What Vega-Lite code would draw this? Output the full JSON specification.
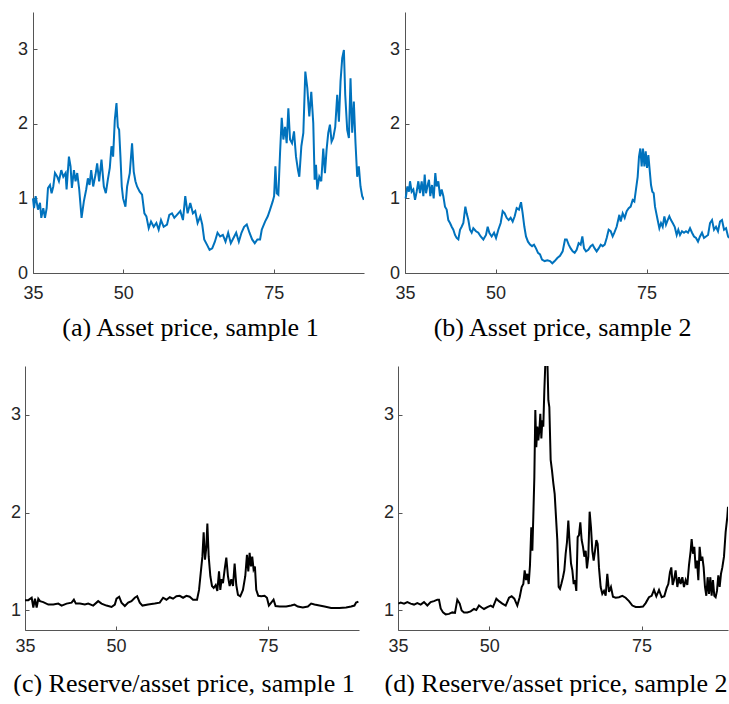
{
  "$schema": "https://vega.github.io/schema/vega-lite/v6.json",
  "background": "white",
  "padding": {"left": 0, "top": 12, "right": 0, "bottom": 0},
  "config": {
    "view": {"stroke": null},
    "axis": {
      "grid": false,
      "domainColor": "#555555",
      "domainWidth": 1,
      "tickColor": "#555555",
      "tickWidth": 1,
      "tickSize": -4,
      "labelFont": "Liberation Sans",
      "labelFontSize": 18,
      "labelColor": "#262626",
      "labelFlush": false,
      "labelOverlap": false,
      "titleFont": "Liberation Serif",
      "titleFontSize": 26,
      "titleFontWeight": "normal",
      "titleColor": "#000000"
    },
    "axisY": {"labelPadding": 9.5}
  },
  "datasets": {
    "assetPrice1": [
      {"t":35.00,"v":1.00},{"t":35.17,"v":0.87},{"t":35.44,"v":1.03},{"t":35.83,"v":0.85},{"t":36.16,"v":0.94},{"t":36.38,"v":0.74},{"t":36.71,"v":0.87},{"t":36.99,"v":0.74},{"t":37.27,"v":0.87},{"t":37.49,"v":1.14},{"t":37.82,"v":1.18},{"t":38.09,"v":1.07},{"t":38.37,"v":1.16},{"t":38.65,"v":1.34},{"t":39.03,"v":1.29},{"t":39.31,"v":1.23},{"t":39.70,"v":1.38},{"t":40.03,"v":1.29},{"t":40.41,"v":1.34},{"t":40.58,"v":1.12},{"t":40.97,"v":1.56},{"t":41.24,"v":1.43},{"t":41.46,"v":1.14},{"t":41.80,"v":1.38},{"t":42.07,"v":1.23},{"t":42.35,"v":1.34},{"t":42.68,"v":1.12},{"t":43.07,"v":0.74},{"t":43.45,"v":0.96},{"t":43.84,"v":1.12},{"t":44.12,"v":1.27},{"t":44.39,"v":1.18},{"t":44.67,"v":1.38},{"t":45.00,"v":1.16},{"t":45.39,"v":1.32},{"t":45.66,"v":1.47},{"t":45.99,"v":1.23},{"t":46.38,"v":1.52},{"t":46.77,"v":1.16},{"t":47.10,"v":1.07},{"t":47.43,"v":1.25},{"t":47.76,"v":1.41},{"t":48.04,"v":1.70},{"t":48.31,"v":1.56},{"t":48.59,"v":2.05},{"t":48.87,"v":2.28},{"t":49.09,"v":1.96},{"t":49.31,"v":1.92},{"t":49.53,"v":1.56},{"t":49.75,"v":1.16},{"t":49.97,"v":1.00},{"t":50.36,"v":0.89},{"t":50.64,"v":1.16},{"t":51.08,"v":1.34},{"t":51.46,"v":1.74},{"t":51.74,"v":1.36},{"t":52.02,"v":1.23},{"t":52.29,"v":1.16},{"t":52.73,"v":1.09},{"t":53.12,"v":1.05},{"t":53.51,"v":0.80},{"t":53.84,"v":0.76},{"t":54.23,"v":0.60},{"t":54.61,"v":0.69},{"t":55.06,"v":0.62},{"t":55.50,"v":0.67},{"t":55.88,"v":0.58},{"t":56.27,"v":0.71},{"t":56.71,"v":0.62},{"t":57.27,"v":0.65},{"t":57.65,"v":0.78},{"t":58.09,"v":0.80},{"t":58.48,"v":0.74},{"t":58.92,"v":0.78},{"t":59.48,"v":0.83},{"t":59.92,"v":0.71},{"t":60.30,"v":1.03},{"t":60.69,"v":0.80},{"t":61.13,"v":0.94},{"t":61.57,"v":0.80},{"t":61.96,"v":0.83},{"t":62.35,"v":0.67},{"t":62.79,"v":0.76},{"t":63.12,"v":0.65},{"t":63.45,"v":0.45},{"t":63.90,"v":0.38},{"t":64.34,"v":0.31},{"t":64.78,"v":0.33},{"t":65.22,"v":0.42},{"t":65.66,"v":0.54},{"t":66.10,"v":0.49},{"t":66.55,"v":0.51},{"t":66.99,"v":0.42},{"t":67.43,"v":0.54},{"t":67.87,"v":0.40},{"t":68.31,"v":0.47},{"t":68.76,"v":0.54},{"t":69.20,"v":0.42},{"t":69.64,"v":0.54},{"t":70.08,"v":0.62},{"t":70.52,"v":0.65},{"t":70.97,"v":0.54},{"t":71.41,"v":0.45},{"t":71.85,"v":0.40},{"t":72.29,"v":0.45},{"t":72.73,"v":0.45},{"t":73.01,"v":0.58},{"t":73.56,"v":0.69},{"t":74.01,"v":0.76},{"t":74.39,"v":0.85},{"t":74.83,"v":0.96},{"t":75.06,"v":1.03},{"t":75.28,"v":1.43},{"t":75.50,"v":1.07},{"t":75.77,"v":1.05},{"t":76.05,"v":1.61},{"t":76.33,"v":2.08},{"t":76.60,"v":1.79},{"t":76.88,"v":1.96},{"t":77.15,"v":1.74},{"t":77.43,"v":2.21},{"t":77.71,"v":1.79},{"t":78.04,"v":1.74},{"t":78.37,"v":1.90},{"t":78.70,"v":1.56},{"t":79.03,"v":1.38},{"t":79.25,"v":1.29},{"t":79.59,"v":1.70},{"t":79.92,"v":1.88},{"t":80.25,"v":2.70},{"t":80.58,"v":2.48},{"t":80.91,"v":2.10},{"t":81.24,"v":2.43},{"t":81.57,"v":2.01},{"t":81.80,"v":1.25},{"t":82.02,"v":1.45},{"t":82.24,"v":1.12},{"t":82.57,"v":1.29},{"t":82.90,"v":1.23},{"t":83.23,"v":1.67},{"t":83.51,"v":1.34},{"t":83.78,"v":1.65},{"t":84.06,"v":1.88},{"t":84.34,"v":1.99},{"t":84.61,"v":1.76},{"t":84.89,"v":1.81},{"t":85.22,"v":1.96},{"t":85.55,"v":2.39},{"t":85.83,"v":2.03},{"t":86.10,"v":2.57},{"t":86.38,"v":2.88},{"t":86.66,"v":2.99},{"t":86.88,"v":2.39},{"t":87.21,"v":1.92},{"t":87.49,"v":1.81},{"t":87.76,"v":2.61},{"t":88.04,"v":1.88},{"t":88.31,"v":2.30},{"t":88.59,"v":1.74},{"t":88.87,"v":1.29},{"t":89.14,"v":1.43},{"t":89.42,"v":1.16},{"t":89.70,"v":1.03},{"t":89.97,"v":0.98}
    ],
    "assetPrice2": [
      {"t":35.11,"v":1.00},{"t":35.39,"v":1.16},{"t":35.66,"v":1.09},{"t":35.83,"v":1.23},{"t":36.10,"v":1.09},{"t":36.38,"v":1.12},{"t":36.66,"v":0.98},{"t":36.93,"v":1.09},{"t":37.21,"v":1.23},{"t":37.48,"v":1.07},{"t":37.76,"v":1.23},{"t":38.04,"v":1.03},{"t":38.26,"v":1.32},{"t":38.48,"v":1.07},{"t":38.70,"v":1.16},{"t":38.97,"v":1.25},{"t":39.19,"v":1.03},{"t":39.47,"v":1.18},{"t":39.75,"v":1.00},{"t":40.02,"v":1.34},{"t":40.24,"v":1.16},{"t":40.52,"v":1.23},{"t":40.80,"v":1.03},{"t":41.07,"v":1.12},{"t":41.35,"v":1.03},{"t":41.62,"v":0.89},{"t":41.90,"v":0.85},{"t":42.17,"v":0.71},{"t":42.45,"v":0.67},{"t":42.73,"v":0.62},{"t":43.00,"v":0.58},{"t":43.28,"v":0.51},{"t":43.55,"v":0.47},{"t":43.83,"v":0.45},{"t":44.11,"v":0.58},{"t":44.38,"v":0.62},{"t":44.66,"v":0.67},{"t":44.99,"v":0.89},{"t":45.21,"v":0.80},{"t":45.49,"v":0.71},{"t":45.76,"v":0.58},{"t":46.04,"v":0.54},{"t":46.31,"v":0.60},{"t":46.75,"v":0.56},{"t":47.14,"v":0.54},{"t":47.53,"v":0.49},{"t":47.97,"v":0.45},{"t":48.41,"v":0.51},{"t":48.69,"v":0.62},{"t":48.96,"v":0.54},{"t":49.35,"v":0.49},{"t":49.74,"v":0.54},{"t":50.07,"v":0.47},{"t":50.45,"v":0.58},{"t":50.84,"v":0.67},{"t":51.17,"v":0.83},{"t":51.50,"v":0.80},{"t":51.83,"v":0.74},{"t":52.16,"v":0.71},{"t":52.49,"v":0.74},{"t":52.83,"v":0.69},{"t":53.16,"v":0.76},{"t":53.49,"v":0.87},{"t":53.87,"v":0.85},{"t":54.21,"v":0.95},{"t":54.48,"v":0.80},{"t":54.76,"v":0.62},{"t":55.03,"v":0.49},{"t":55.36,"v":0.42},{"t":55.70,"v":0.38},{"t":56.03,"v":0.36},{"t":56.36,"v":0.38},{"t":56.69,"v":0.33},{"t":57.02,"v":0.27},{"t":57.35,"v":0.25},{"t":57.68,"v":0.18},{"t":58.12,"v":0.16},{"t":58.57,"v":0.17},{"t":59.01,"v":0.16},{"t":59.39,"v":0.13},{"t":59.78,"v":0.16},{"t":60.22,"v":0.20},{"t":60.66,"v":0.23},{"t":61.10,"v":0.29},{"t":61.49,"v":0.45},{"t":61.77,"v":0.45},{"t":62.10,"v":0.38},{"t":62.43,"v":0.33},{"t":62.76,"v":0.29},{"t":63.09,"v":0.27},{"t":63.42,"v":0.31},{"t":63.75,"v":0.40},{"t":64.08,"v":0.38},{"t":64.36,"v":0.49},{"t":64.64,"v":0.33},{"t":64.97,"v":0.29},{"t":65.35,"v":0.31},{"t":65.74,"v":0.36},{"t":66.07,"v":0.38},{"t":66.40,"v":0.33},{"t":66.73,"v":0.29},{"t":67.06,"v":0.33},{"t":67.40,"v":0.38},{"t":67.73,"v":0.36},{"t":68.06,"v":0.38},{"t":68.39,"v":0.47},{"t":68.72,"v":0.58},{"t":69.05,"v":0.56},{"t":69.38,"v":0.49},{"t":69.66,"v":0.54},{"t":70.04,"v":0.62},{"t":70.49,"v":0.78},{"t":70.71,"v":0.69},{"t":71.04,"v":0.80},{"t":71.37,"v":0.74},{"t":71.70,"v":0.83},{"t":72.03,"v":0.87},{"t":72.36,"v":0.89},{"t":72.69,"v":0.98},{"t":72.97,"v":0.96},{"t":73.24,"v":1.12},{"t":73.52,"v":1.29},{"t":73.74,"v":1.56},{"t":73.96,"v":1.67},{"t":74.18,"v":1.43},{"t":74.40,"v":1.67},{"t":74.63,"v":1.43},{"t":74.85,"v":1.63},{"t":75.07,"v":1.41},{"t":75.29,"v":1.58},{"t":75.51,"v":1.38},{"t":75.73,"v":1.18},{"t":75.95,"v":1.09},{"t":76.17,"v":1.07},{"t":76.39,"v":0.89},{"t":76.61,"v":0.80},{"t":76.83,"v":0.71},{"t":77.11,"v":0.60},{"t":77.38,"v":0.67},{"t":77.66,"v":0.62},{"t":77.94,"v":0.76},{"t":78.21,"v":0.65},{"t":78.49,"v":0.71},{"t":78.76,"v":0.76},{"t":79.04,"v":0.71},{"t":79.32,"v":0.67},{"t":79.65,"v":0.62},{"t":79.98,"v":0.51},{"t":80.25,"v":0.58},{"t":80.53,"v":0.51},{"t":80.86,"v":0.56},{"t":81.19,"v":0.54},{"t":81.52,"v":0.56},{"t":81.85,"v":0.54},{"t":82.19,"v":0.60},{"t":82.52,"v":0.54},{"t":82.85,"v":0.49},{"t":83.18,"v":0.47},{"t":83.51,"v":0.42},{"t":83.84,"v":0.49},{"t":84.17,"v":0.54},{"t":84.50,"v":0.47},{"t":84.83,"v":0.49},{"t":85.17,"v":0.51},{"t":85.50,"v":0.67},{"t":85.83,"v":0.71},{"t":86.16,"v":0.58},{"t":86.49,"v":0.62},{"t":86.82,"v":0.56},{"t":87.15,"v":0.69},{"t":87.48,"v":0.71},{"t":87.82,"v":0.58},{"t":88.15,"v":0.60},{"t":88.48,"v":0.49},{"t":88.64,"v":0.47}
    ],
    "reserveRatio1": [
      {"t":35.00,"v":1.105},{"t":35.55,"v":1.105},{"t":36.10,"v":1.13},{"t":36.37,"v":1.03},{"t":36.64,"v":1.12},{"t":36.92,"v":1.03},{"t":37.19,"v":1.12},{"t":37.47,"v":1.095},{"t":38.01,"v":1.085},{"t":38.84,"v":1.06},{"t":39.66,"v":1.06},{"t":40.48,"v":1.07},{"t":41.03,"v":1.05},{"t":41.85,"v":1.07},{"t":42.67,"v":1.08},{"t":43.05,"v":1.11},{"t":43.38,"v":1.07},{"t":44.04,"v":1.07},{"t":44.86,"v":1.06},{"t":45.41,"v":1.07},{"t":46.23,"v":1.05},{"t":47.05,"v":1.095},{"t":47.60,"v":1.07},{"t":48.42,"v":1.05},{"t":49.25,"v":1.035},{"t":49.79,"v":1.06},{"t":50.07,"v":1.12},{"t":50.51,"v":1.14},{"t":50.89,"v":1.08},{"t":51.44,"v":1.045},{"t":51.99,"v":1.08},{"t":52.53,"v":1.095},{"t":53.08,"v":1.13},{"t":53.47,"v":1.145},{"t":53.90,"v":1.08},{"t":54.34,"v":1.05},{"t":55.27,"v":1.06},{"t":56.37,"v":1.07},{"t":57.19,"v":1.08},{"t":57.74,"v":1.13},{"t":58.29,"v":1.11},{"t":58.84,"v":1.135},{"t":59.38,"v":1.12},{"t":59.93,"v":1.145},{"t":60.48,"v":1.15},{"t":61.03,"v":1.13},{"t":61.58,"v":1.15},{"t":62.12,"v":1.14},{"t":62.67,"v":1.11},{"t":63.33,"v":1.11},{"t":63.66,"v":1.21},{"t":63.93,"v":1.38},{"t":64.21,"v":1.55},{"t":64.42,"v":1.80},{"t":64.64,"v":1.52},{"t":64.86,"v":1.65},{"t":65.03,"v":1.89},{"t":65.25,"v":1.55},{"t":65.52,"v":1.35},{"t":65.79,"v":1.25},{"t":66.07,"v":1.23},{"t":66.40,"v":1.26},{"t":66.67,"v":1.20},{"t":66.95,"v":1.40},{"t":67.16,"v":1.21},{"t":67.38,"v":1.32},{"t":67.60,"v":1.28},{"t":67.88,"v":1.42},{"t":68.15,"v":1.54},{"t":68.42,"v":1.35},{"t":68.70,"v":1.25},{"t":68.97,"v":1.32},{"t":69.25,"v":1.25},{"t":69.52,"v":1.48},{"t":69.79,"v":1.26},{"t":70.07,"v":1.16},{"t":70.45,"v":1.145},{"t":70.89,"v":1.21},{"t":71.27,"v":1.35},{"t":71.55,"v":1.57},{"t":71.77,"v":1.40},{"t":71.99,"v":1.59},{"t":72.21,"v":1.45},{"t":72.42,"v":1.55},{"t":72.64,"v":1.42},{"t":72.86,"v":1.45},{"t":73.08,"v":1.21},{"t":73.41,"v":1.15},{"t":73.90,"v":1.145},{"t":74.45,"v":1.15},{"t":74.84,"v":1.13},{"t":75.16,"v":1.05},{"t":75.55,"v":1.08},{"t":75.93,"v":1.11},{"t":76.26,"v":1.045},{"t":76.92,"v":1.04},{"t":78.01,"v":1.04},{"t":78.84,"v":1.05},{"t":79.38,"v":1.06},{"t":79.93,"v":1.04},{"t":80.75,"v":1.03},{"t":81.58,"v":1.04},{"t":82.12,"v":1.07},{"t":82.67,"v":1.06},{"t":83.49,"v":1.05},{"t":84.32,"v":1.04},{"t":85.41,"v":1.025},{"t":86.78,"v":1.025},{"t":87.88,"v":1.03},{"t":88.70,"v":1.04},{"t":89.25,"v":1.05},{"t":89.52,"v":1.08},{"t":89.90,"v":1.09}
    ],
    "reserveRatio2": [
      {"t":35.05,"v":1.07},{"t":35.44,"v":1.08},{"t":35.99,"v":1.07},{"t":36.53,"v":1.085},{"t":37.08,"v":1.07},{"t":37.63,"v":1.06},{"t":38.17,"v":1.075},{"t":38.72,"v":1.06},{"t":39.27,"v":1.085},{"t":39.82,"v":1.05},{"t":40.36,"v":1.085},{"t":40.91,"v":1.095},{"t":41.46,"v":1.11},{"t":41.73,"v":1.11},{"t":42.01,"v":1.02},{"t":42.39,"v":0.98},{"t":42.83,"v":0.96},{"t":43.37,"v":0.965},{"t":43.92,"v":0.98},{"t":44.36,"v":0.975},{"t":44.74,"v":1.11},{"t":45.13,"v":1.07},{"t":45.45,"v":1.00},{"t":45.84,"v":0.98},{"t":46.38,"v":0.98},{"t":46.93,"v":0.99},{"t":47.48,"v":1.015},{"t":47.86,"v":1.005},{"t":48.30,"v":1.05},{"t":48.74,"v":1.03},{"t":49.12,"v":1.015},{"t":49.67,"v":1.035},{"t":50.22,"v":1.05},{"t":50.60,"v":1.035},{"t":51.15,"v":1.12},{"t":51.58,"v":1.095},{"t":52.13,"v":1.07},{"t":52.68,"v":1.05},{"t":53.23,"v":1.13},{"t":53.66,"v":1.145},{"t":54.10,"v":1.12},{"t":54.59,"v":1.05},{"t":54.98,"v":1.135},{"t":55.31,"v":1.24},{"t":55.58,"v":1.27},{"t":55.80,"v":1.41},{"t":56.02,"v":1.31},{"t":56.24,"v":1.375},{"t":56.46,"v":1.27},{"t":56.67,"v":1.46},{"t":56.89,"v":1.85},{"t":57.06,"v":1.61},{"t":57.22,"v":1.96},{"t":57.39,"v":2.365},{"t":57.55,"v":3.05},{"t":57.71,"v":2.67},{"t":57.88,"v":2.88},{"t":58.04,"v":2.74},{"t":58.21,"v":2.84},{"t":58.37,"v":3.01},{"t":58.54,"v":2.76},{"t":58.70,"v":2.945},{"t":58.86,"v":2.88},{"t":59.03,"v":3.25},{"t":59.25,"v":3.62},{"t":59.52,"v":3.58},{"t":59.69,"v":3.15},{"t":59.85,"v":3.08},{"t":60.07,"v":2.54},{"t":60.29,"v":2.43},{"t":60.51,"v":2.30},{"t":60.73,"v":2.19},{"t":60.94,"v":1.96},{"t":61.16,"v":1.72},{"t":61.38,"v":1.24},{"t":61.60,"v":1.22},{"t":61.82,"v":1.27},{"t":62.09,"v":1.34},{"t":62.31,"v":1.41},{"t":62.53,"v":1.58},{"t":62.75,"v":1.70},{"t":62.97,"v":1.92},{"t":63.19,"v":1.68},{"t":63.41,"v":1.48},{"t":63.63,"v":1.41},{"t":63.85,"v":1.27},{"t":64.06,"v":1.31},{"t":64.28,"v":1.20},{"t":64.50,"v":1.75},{"t":64.72,"v":1.77},{"t":64.94,"v":1.90},{"t":65.16,"v":1.72},{"t":65.38,"v":1.65},{"t":65.60,"v":1.55},{"t":65.82,"v":1.61},{"t":66.03,"v":1.43},{"t":66.25,"v":1.55},{"t":66.47,"v":2.01},{"t":66.69,"v":1.85},{"t":66.91,"v":1.61},{"t":67.13,"v":1.51},{"t":67.35,"v":1.61},{"t":67.57,"v":1.72},{"t":67.79,"v":1.68},{"t":68.00,"v":1.44},{"t":68.28,"v":1.24},{"t":68.55,"v":1.17},{"t":68.83,"v":1.20},{"t":69.10,"v":1.15},{"t":69.37,"v":1.375},{"t":69.65,"v":1.19},{"t":69.97,"v":1.24},{"t":70.30,"v":1.14},{"t":70.74,"v":1.13},{"t":71.29,"v":1.135},{"t":71.84,"v":1.15},{"t":72.38,"v":1.13},{"t":72.93,"v":1.095},{"t":73.48,"v":1.05},{"t":74.03,"v":1.035},{"t":74.68,"v":1.035},{"t":75.23,"v":1.04},{"t":75.67,"v":1.075},{"t":76.21,"v":1.135},{"t":76.65,"v":1.15},{"t":77.04,"v":1.21},{"t":77.42,"v":1.145},{"t":77.86,"v":1.21},{"t":78.30,"v":1.135},{"t":78.73,"v":1.145},{"t":79.12,"v":1.23},{"t":79.39,"v":1.27},{"t":79.66,"v":1.39},{"t":79.88,"v":1.44},{"t":80.10,"v":1.26},{"t":80.32,"v":1.31},{"t":80.59,"v":1.41},{"t":80.87,"v":1.24},{"t":81.14,"v":1.34},{"t":81.41,"v":1.27},{"t":81.69,"v":1.34},{"t":81.96,"v":1.24},{"t":82.24,"v":1.31},{"t":82.51,"v":1.26},{"t":82.78,"v":1.46},{"t":83.06,"v":1.61},{"t":83.22,"v":1.73},{"t":83.44,"v":1.58},{"t":83.66,"v":1.65},{"t":83.88,"v":1.43},{"t":84.10,"v":1.51},{"t":84.32,"v":1.31},{"t":84.53,"v":1.65},{"t":84.75,"v":1.51},{"t":84.97,"v":1.55},{"t":85.19,"v":1.44},{"t":85.41,"v":1.24},{"t":85.63,"v":1.15},{"t":85.85,"v":1.34},{"t":86.07,"v":1.17},{"t":86.29,"v":1.34},{"t":86.50,"v":1.15},{"t":86.72,"v":1.31},{"t":86.94,"v":1.15},{"t":87.16,"v":1.135},{"t":87.38,"v":1.20},{"t":87.60,"v":1.36},{"t":87.82,"v":1.24},{"t":88.04,"v":1.375},{"t":88.26,"v":1.44},{"t":88.53,"v":1.55},{"t":88.80,"v":1.80},{"t":89.08,"v":1.96},{"t":89.19,"v":2.06}
    ]
  },
  "columns": 2,
  "align": "none",
  "spacing": {"row": 26, "column": 8},
  "concat": [
    {
      "data": {"name": "assetPrice1"},
      "width": 339,
      "height": 261,
      "mark": {"type": "line", "color": "#0072BD", "strokeWidth": 2, "clip": true},
      "encoding": {
        "x": {"field": "t", "type": "quantitative",
              "scale": {"domain": [35, 90], "range": [8, 339], "nice": false, "zero": false},
              "axis": {"values": [35, 50, 75], "title": "(a) Asset price, sample 1", "titleX": 165,
                       "labelPadding": 15, "minExtent": 30, "maxExtent": 30, "titlePadding": 11}},
        "y": {"field": "v", "type": "quantitative",
              "scale": {"domain": [0, 3.5], "nice": false, "zero": false},
              "axis": {"values": [0, 1, 2, 3], "title": null, "offset": -8, "minExtent": 33, "maxExtent": 33}}
      }
    },
    {
      "data": {"name": "assetPrice2"},
      "width": 330,
      "height": 261,
      "mark": {"type": "line", "color": "#0072BD", "strokeWidth": 2, "clip": true},
      "encoding": {
        "x": {"field": "t", "type": "quantitative",
              "scale": {"domain": [35, 88.64], "range": [6, 330], "nice": false, "zero": false},
              "axis": {"values": [35, 50, 75], "title": "(b) Asset price, sample 2", "titleX": 163,
                       "labelPadding": 15, "minExtent": 30, "maxExtent": 30, "titlePadding": 11}},
        "y": {"field": "v", "type": "quantitative",
              "scale": {"domain": [0, 3.5], "nice": false, "zero": false},
              "axis": {"values": [0, 1, 2, 3], "title": null, "offset": -6, "minExtent": 33, "maxExtent": 33}}
      }
    },
    {
      "data": {"name": "reserveRatio1"},
      "width": 334,
      "height": 264,
      "mark": {"type": "line", "color": "#000000", "strokeWidth": 2, "clip": true},
      "encoding": {
        "x": {"field": "t", "type": "quantitative",
              "scale": {"domain": [35, 90], "nice": false, "zero": false},
              "axis": {"values": [35, 50, 75], "title": "(c) Reserve/asset price, sample 1", "titleX": 158.5,
                       "labelPadding": 11, "minExtent": 30, "maxExtent": 30, "titlePadding": 10}},
        "y": {"field": "v", "type": "quantitative",
              "scale": {"domain": [0.8, 3.5], "nice": false, "zero": false},
              "axis": {"values": [1, 2, 3], "title": null, "labelPadding": 8.5, "minExtent": 25, "maxExtent": 25}}
      }
    },
    {
      "data": {"name": "reserveRatio2"},
      "width": 330,
      "height": 264,
      "mark": {"type": "line", "color": "#000000", "strokeWidth": 2, "clip": true},
      "encoding": {
        "x": {"field": "t", "type": "quantitative",
              "scale": {"domain": [35, 89.19], "nice": false, "zero": false},
              "axis": {"values": [35, 50, 75], "title": "(d) Reserve/asset price, sample 2", "titleX": 157.5,
                       "labelPadding": 11, "minExtent": 30, "maxExtent": 30, "titlePadding": 10}},
        "y": {"field": "v", "type": "quantitative",
              "scale": {"domain": [0.8, 3.5], "nice": false, "zero": false},
              "axis": {"values": [1, 2, 3], "title": null, "labelPadding": 8.5, "minExtent": 26, "maxExtent": 26}}
      }
    }
  ]
}
